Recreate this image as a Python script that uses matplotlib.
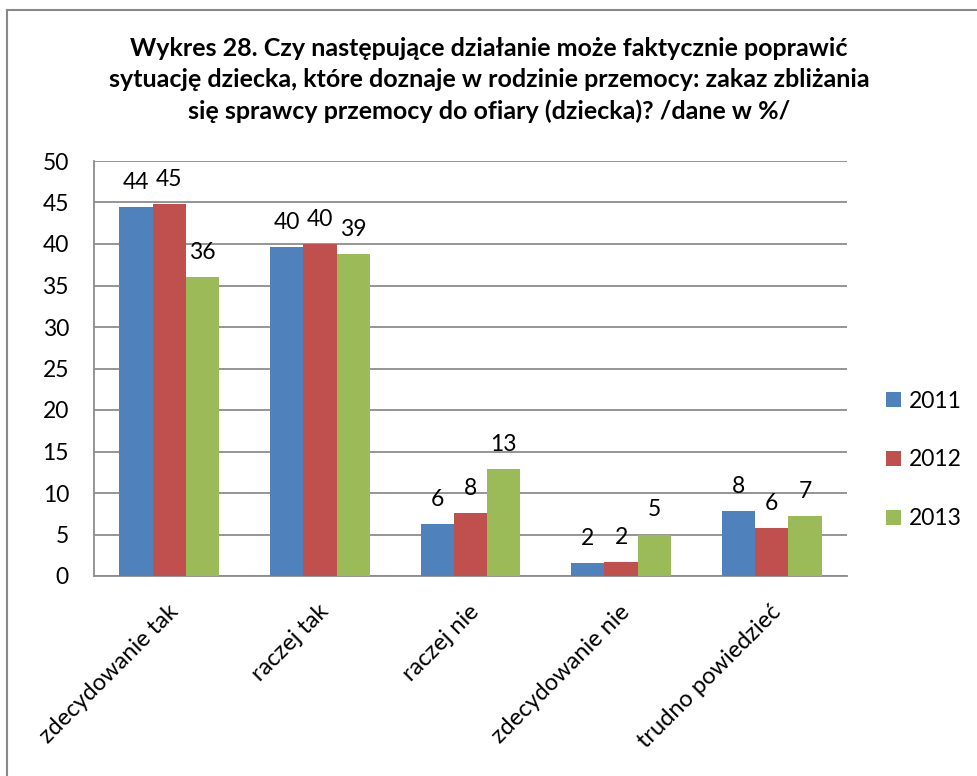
import matplotlib
matplotlib.use("Agg")
import matplotlib.pyplot as plt
import matplotlib.transforms as mtransforms
from matplotlib.lines import Line2D
import numpy as np

plt.rcParams['font.family'] = ['Lato', 'DejaVu Sans']

categories = ["zdecydowanie tak", "raczej tak", "raczej nie", "zdecydowanie nie", "trudno powiedzieć"]
years = ["2011", "2012", "2013"]
v2011 = [44.4, 39.6, 6.3, 1.6, 7.8]
v2012 = [44.8, 40.0, 7.6, 1.7, 5.8]
v2013 = [36.0, 38.8, 12.9, 5.0, 7.2]
labels2011 = ["44", "40", "6", "2", "8"]
labels2012 = ["45", "40", "8", "2", "6"]
labels2013 = ["36", "39", "13", "5", "7"]
yticks = [0, 5, 10, 15, 20, 25, 30, 35, 40, 45, 50]
title = ("Wykres 28. Czy następujące działanie może faktycznie poprawić\n"
         "sytuację dziecka, które doznaje w rodzinie przemocy: zakaz zbliżania\n"
         "się sprawcy przemocy do ofiary (dziecka)? /dane w %/")

colors = ["#4F81BD", "#C0504D", "#9BBB59"]
series = [v2011, v2012, v2013]
series_labels = [labels2011, labels2012, labels2013]

W, H = 978, 776
fig = plt.figure(figsize=(W / 100, H / 100), dpi=100)
ax = fig.add_axes([94 / W, 1 - 576 / H, (847 - 94) / W, (576 - 161) / H])

fs = 16.5
x = np.arange(len(categories))
bw = 0.221
for i, (vals, labs, c) in enumerate(zip(series, series_labels, colors)):
    pos = x + (i - 1) * bw
    bars = ax.bar(pos, vals, width=bw, color=c, label=years[i], zorder=3, linewidth=0)
    for b, lab in zip(bars, labs):
        ax.annotate(lab, (b.get_x() + b.get_width() / 2, b.get_height()),
                    xytext=(0, 13), textcoords="offset points",
                    ha="center", va="baseline", fontsize=fs, color="black")

ax.set_xlim(-0.5, len(categories) - 0.5)
ax.set_ylim(0, 50)
ax.set_yticks(yticks)
ax.set_yticklabels([str(t) for t in yticks], fontsize=fs)
ax.yaxis.grid(True, color="#8C8C8C", linewidth=1.3, zorder=0)
ax.set_axisbelow(True)
ax.tick_params(axis="y", length=0, pad=18)
ax.tick_params(axis="x", length=0)
ax.set_xticks(x)
ax.set_xticklabels(categories, fontsize=17, rotation=45, ha="right", va="top",
                   rotation_mode="anchor")
offset = mtransforms.ScaledTranslation(-2 / 100, -20 / 100, fig.dpi_scale_trans)
for lbl in ax.get_xticklabels():
    lbl.set_transform(lbl.get_transform() + offset)

for s in ["top", "right"]:
    ax.spines[s].set_visible(False)
for s in ["left", "bottom"]:
    ax.spines[s].set_color("#8C8C8C")
    ax.spines[s].set_linewidth(1.3)

leg = fig.legend(loc="center left", bbox_to_anchor=(886 / W, 1 - 460 / H),
                 frameon=False, fontsize=fs, handlelength=0.65, handleheight=0.65,
                 handletextpad=0.35, labelspacing=1.65, borderpad=0, borderaxespad=0)

fig.text(0.5, 1 - 80 / H, title, ha="center", va="center", fontsize=18,
         fontweight="bold", linespacing=1.4)

# outer frame (top and left edges visible)
fig.add_artist(Line2D([7 / W, 1], [1 - 10 / H, 1 - 10 / H], color="#888888", linewidth=1.5))
fig.add_artist(Line2D([7 / W, 7 / W], [0, 1 - 10 / H], color="#888888", linewidth=1.5))

fig.savefig("out.png", dpi=100, facecolor="white")
